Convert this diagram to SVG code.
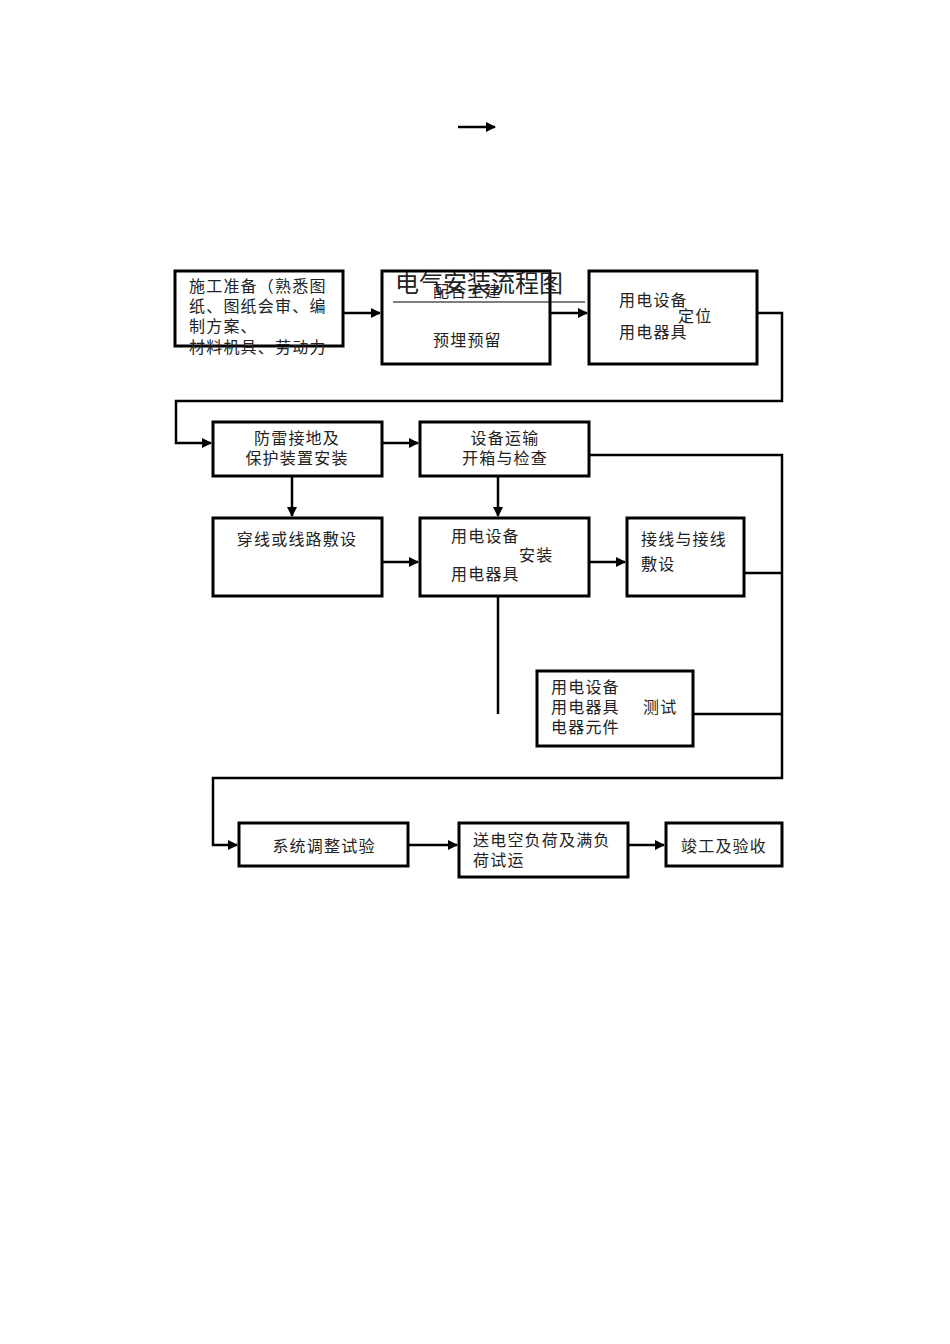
<svg xmlns="http://www.w3.org/2000/svg" width="950" height="1344" viewBox="0 0 950 1344">
<style>
.b{fill:none;stroke:#000;stroke-width:3}
.c{fill:none;stroke:#000;stroke-width:2.5}
text{font-family:"Noto Sans CJK SC","Liberation Serif",serif;font-size:16px;letter-spacing:1.2px;fill:#222}
</style>
<defs><marker id="a" viewBox="0 0 10 10" refX="9" refY="5" markerWidth="4" markerHeight="4" orient="auto"><path d="M0,0L10,5L0,10z"/></marker></defs>
<rect width="950" height="1344" fill="#fff"/>
<g id="connectors">
<path class="c" d="M458,127H495" marker-end="url(#a)"/>
<path class="c" d="M343,313H380" marker-end="url(#a)"/>
<path class="c" d="M550,313H587" marker-end="url(#a)"/>
<path class="c" d="M757,313H782V401H176V443H211" marker-end="url(#a)"/>
<path class="c" d="M382,443H418" marker-end="url(#a)"/>
<path class="c" d="M589,455H782V778H213V845H237" marker-end="url(#a)"/>
<path class="c" d="M292,476V516" marker-end="url(#a)"/>
<path class="c" d="M498,476V516" marker-end="url(#a)"/>
<path class="c" d="M382,562H418" marker-end="url(#a)"/>
<path class="c" d="M589,562H625" marker-end="url(#a)"/>
<path class="c" d="M744,573H782"/>
<path class="c" d="M498,596V714"/>
<path class="c" d="M693,714H782"/>
<path class="c" d="M408,845H457" marker-end="url(#a)"/>
<path class="c" d="M628,845H664" marker-end="url(#a)"/>
</g>
<g id="n1"><rect class="b" x="175" y="271" width="168" height="75"/><text x="189" y="292">施工准备（熟悉图</text><text x="189" y="312">纸、图纸会审、编</text><text x="189" y="332">制方案、</text><text x="189" y="353">材料机具、劳动力</text></g>
<g id="n2"><rect class="b" x="382" y="271" width="168" height="93"/><text x="433" y="297">配合土建</text><text x="433" y="346">预埋预留</text></g>
<g id="title"><text x="395" y="292" style="font-size:24px;letter-spacing:0">电气安装流程图</text><path d="M393,302H585" stroke="#000" stroke-width="1.2"/></g>
<g id="n3"><rect class="b" x="589" y="271" width="168" height="93"/><text x="619" y="306">用电设备</text><text x="678" y="322">定位</text><text x="619" y="338">用电器具</text></g>
<g id="n4"><rect class="b" x="213" y="422" width="169" height="54"/><text x="297" y="444" text-anchor="middle">防雷接地及</text><text x="297" y="464" text-anchor="middle">保护装置安装</text></g>
<g id="n5"><rect class="b" x="420" y="422" width="169" height="54"/><text x="505" y="444" text-anchor="middle">设备运输</text><text x="505" y="464" text-anchor="middle">开箱与检查</text></g>
<g id="n6"><rect class="b" x="213" y="518" width="169" height="78"/><text x="297" y="545" text-anchor="middle">穿线或线路敷设</text></g>
<g id="n7"><rect class="b" x="420" y="518" width="169" height="78"/><text x="451" y="542">用电设备</text><text x="519" y="561">安装</text><text x="451" y="580">用电器具</text></g>
<g id="n8"><rect class="b" x="627" y="518" width="117" height="78"/><text x="641" y="545">接线与接线</text><text x="641" y="570">敷设</text></g>
<g id="n9"><rect class="b" x="537" y="671" width="156" height="75"/><text x="551" y="693">用电设备</text><text x="551" y="713">用电器具</text><text x="643" y="713">测试</text><text x="551" y="733">电器元件</text></g>
<g id="n10"><rect class="b" x="239" y="823" width="169" height="43"/><text x="324" y="852" text-anchor="middle">系统调整试验</text></g>
<g id="n11"><rect class="b" x="459" y="823" width="169" height="54"/><text x="473" y="846">送电空负荷及满负</text><text x="473" y="866">荷试运</text></g>
<g id="n12"><rect class="b" x="666" y="823" width="116" height="43"/><text x="724" y="852" text-anchor="middle">竣工及验收</text></g>
</svg>
